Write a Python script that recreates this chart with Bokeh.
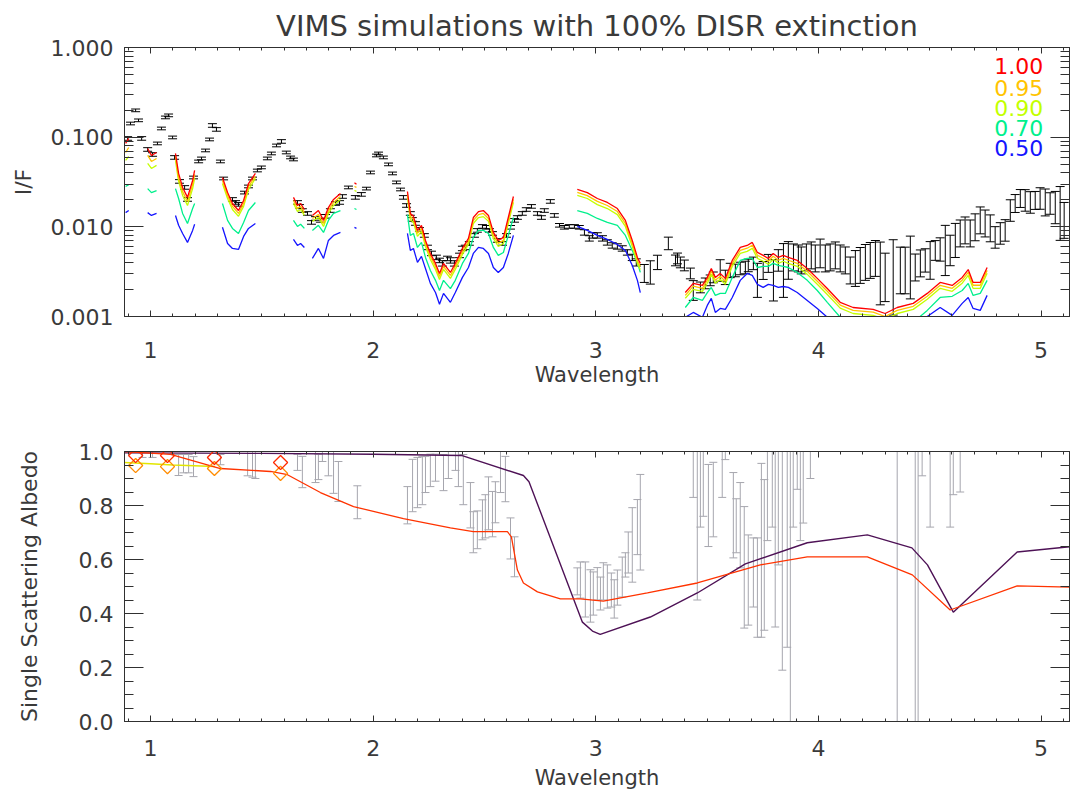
import numpy as np
from bokeh.plotting import figure
from bokeh.models import (Range1d, FixedTicker, LinearAxis, LogAxis, Label,
                          CustomJSTickFormatter, Title)
from bokeh.layouts import column
from bokeh.embed import file_html
from bokeh.resources import INLINE

nan = float("nan")

# ---------------- top panel: VIMS observed I/F (black, with error bars) ----------------
obs_wl = [
    0.897, 0.910, 0.933, 0.946, 0.960, 0.987, 1.009, 1.031, 1.049, 1.067,
    1.081, 1.099, 1.108, 1.130, 1.153, 1.166, 1.193, 1.216, 1.229, 1.247,
    1.265, 1.278, 1.296, 1.314, 1.328, 1.368, 1.382, 1.395, 1.422, 1.440,
    1.458, 1.480, 1.498, 1.525, 1.543, 1.566, 1.588, 1.610, 1.629, 1.642,
    1.660, 1.669, 1.682, 1.705, 1.723, 1.741, 1.763, 1.786, 1.808, 1.831,
    1.849, 1.862, 1.889, 1.920, 1.947, 1.970, 1.988, 2.015, 2.024, 2.046,
    2.069, 2.087, 2.105, 2.123, 2.136, 2.150, 2.167, 2.176, 2.190, 2.208,
    2.230, 2.244, 2.262, 2.284, 2.298, 2.311, 2.334, 2.347, 2.365, 2.388,
    2.401, 2.414, 2.432, 2.455, 2.468, 2.491, 2.509, 2.522, 2.536, 2.558,
    2.581, 2.599, 2.617, 2.635, 2.648, 2.670, 2.688, 2.711, 2.738, 2.756,
    2.769, 2.796, 2.814, 2.837, 2.859, 2.881, 2.904, 2.926, 2.949, 2.971,
    2.985, 3.007, 3.030, 3.052, 3.074, 3.097, 3.119, 3.142, 3.164, 3.182,
    3.218, 3.245, 3.277, 3.326, 3.358, 3.367, 3.380, 3.398, 3.425, 3.438,
    3.470, 3.492, 3.514, 3.528, 3.559, 3.582, 3.604, 3.627, 3.649, 3.672,
    3.685, 3.708, 3.726, 3.752, 3.775, 3.798, 3.820, 3.843, 3.865, 3.888,
    3.910, 3.923, 3.946, 3.968, 3.986, 4.008, 4.031, 4.053, 4.076, 4.098,
    4.121, 4.143, 4.166, 4.188, 4.211, 4.233, 4.256, 4.278, 4.300, 4.336,
    4.368, 4.390, 4.413, 4.435, 4.458, 4.480, 4.502, 4.525, 4.547, 4.570,
    4.592, 4.615, 4.637, 4.659, 4.682, 4.704, 4.727, 4.749, 4.772, 4.794,
    4.817, 4.839, 4.862, 4.884, 4.907, 4.929, 4.952, 4.974, 4.996, 5.019,
    5.041, 5.064, 5.086, 5.104]
obs_if = [
    0.0967, 0.142, 0.199, 0.154, 0.0968, 0.0729, 0.0641, 0.0851, 0.125, 0.166,
    0.175, 0.0993, 0.0594, 0.0321, 0.0275, 0.0202, 0.0355, 0.0536, 0.0579, 0.0711,
    0.0943, 0.135, 0.122, 0.0536, 0.0346, 0.0202, 0.0187, 0.0178, 0.0241, 0.0282,
    0.0346, 0.0425, 0.0460, 0.0579, 0.0658, 0.0808, 0.0896, 0.0675, 0.0594, 0.0564,
    0.0187, 0.0169, 0.0152, 0.0141, 0.0112, 0.0124, 0.0118, 0.0131, 0.0152, 0.0182,
    0.0187, 0.0218, 0.0275, 0.0213, 0.0230, 0.0267, 0.0404, 0.0625, 0.0658, 0.0594,
    0.0497, 0.0394, 0.0313, 0.0261, 0.0213, 0.0173, 0.0141, 0.0121, 0.0109, 0.00936,
    0.00802, 0.00589, 0.00505, 0.00456, 0.00422, 0.00391, 0.00444, 0.00422, 0.00391, 0.00480,
    0.00574, 0.00589, 0.00653, 0.00802, 0.00912, 0.0101, 0.00988, 0.00912, 0.00844, 0.00705,
    0.00653, 0.00802, 0.00988, 0.0118, 0.0127, 0.0141, 0.0156, 0.0169, 0.0141, 0.0127,
    0.0152, 0.0192, 0.0134, 0.0104, 0.00988, 0.0101, 0.0101, 0.00988, 0.00866, 0.00743,
    0.00802, 0.00802, 0.00743, 0.00670, 0.00620, 0.00604, 0.00574, 0.00518, 0.00456, 0.00401,
    0.00302, 0.00310, 0.00401, 0.00653, 0.00422, 0.00444, 0.00401, 0.00371, 0.00302, 0.00195,
    0.00211, 0.00234, 0.00253, 0.00273, 0.00326, 0.00273, 0.00326, 0.00326, 0.00343, 0.00352,
    0.00371, 0.00391, 0.00253, 0.00326, 0.00391, 0.00253, 0.00422, 0.00326, 0.00422, 0.00456,
    0.00444, 0.00422, 0.00456, 0.00480, 0.00444, 0.00505, 0.00444, 0.00456, 0.00480, 0.00444,
    0.00422, 0.00326, 0.00343, 0.00371, 0.00401, 0.00422, 0.00444, 0.00302, 0.00273, 0.00273,
    0.00326, 0.00326, 0.00352, 0.00352, 0.00391, 0.00422, 0.00422, 0.00545, 0.00559, 0.00545,
    0.00545, 0.00705, 0.00844, 0.00912, 0.00844, 0.00988, 0.0118, 0.0109, 0.00962, 0.00762,
    0.00844, 0.00912, 0.0152, 0.0182, 0.0207, 0.0197, 0.0187, 0.0197, 0.0207, 0.0187,
    0.0182, 0.0164, 0.0141, 0.0118]
# half-length of each error bar, in decades (log10 units)
obs_err_dex = [
    0.02, 0.015, 0.015, 0.015, 0.02, 0.02, 0.02, 0.015, 0.015, 0.015,
    0.015, 0.015, 0.02, 0.02, 0.02, 0.02, 0.015, 0.015, 0.015, 0.015,
    0.015, 0.02, 0.02, 0.015, 0.015, 0.02, 0.02, 0.02, 0.015, 0.015,
    0.015, 0.015, 0.015, 0.015, 0.015, 0.015, 0.02, 0.015, 0.015, 0.015,
    0.02, 0.02, 0.02, 0.02, 0.02, 0.02, 0.02, 0.02, 0.02, 0.02,
    0.02, 0.02, 0.015, 0.02, 0.02, 0.015, 0.015, 0.015, 0.015, 0.015,
    0.015, 0.015, 0.015, 0.015, 0.02, 0.02, 0.02, 0.02, 0.02, 0.02,
    0.02, 0.025, 0.025, 0.025, 0.025, 0.03, 0.025, 0.03, 0.03, 0.025,
    0.025, 0.025, 0.02, 0.02, 0.02, 0.02, 0.02, 0.02, 0.02, 0.02,
    0.02, 0.02, 0.02, 0.02, 0.02, 0.02, 0.02, 0.02, 0.02, 0.02,
    0.02, 0.02, 0.02, 0.02, 0.02, 0.02, 0.02, 0.02, 0.03, 0.03,
    0.03, 0.03, 0.03, 0.03, 0.03, 0.03, 0.03, 0.03, 0.035, 0.04,
    0.10, 0.13, 0.08, 0.07, 0.06, 0.06, 0.06, 0.06, 0.06, 0.11,
    0.06, 0.06, 0.06, 0.06, 0.12, 0.08, 0.08, 0.07, 0.07, 0.07,
    0.07, 0.07, 0.19, 0.10, 0.10, 0.23, 0.12, 0.30, 0.21, 0.15,
    0.15, 0.15, 0.15, 0.15, 0.15, 0.16, 0.15, 0.15, 0.15, 0.15,
    0.15, 0.15, 0.20, 0.20, 0.20, 0.20, 0.20, 0.35, 0.27, 0.42,
    0.26, 0.26, 0.35, 0.15, 0.15, 0.13, 0.21, 0.11, 0.13, 0.28,
    0.17, 0.19, 0.15, 0.15, 0.15, 0.15, 0.15, 0.15, 0.15, 0.12,
    0.12, 0.12, 0.12, 0.10, 0.10, 0.12, 0.12, 0.10, 0.12, 0.15,
    0.12, 0.18, 0.30, 0.20]

# ---------------- top panel: simulations (segments separated by nan) ----------------
model_wl = [
    0.888, 0.902, nan,
    0.987, 1.004, 1.027, nan,
    1.112, 1.126, 1.144, 1.166, 1.189, 1.198, nan,
    1.323, 1.346, 1.368, 1.395, 1.418, 1.440, 1.471, nan,
    1.642, 1.660, 1.674, 1.691, nan,
    1.727, 1.754, 1.777, 1.799, 1.822, 1.853, nan,
    1.916, 1.925, nan,
    2.154, 2.167, 2.181, 2.199, 2.217, 2.235, 2.257, 2.280, 2.298, 2.316, 2.347, 2.369,
    2.401, 2.428, 2.450, 2.473, 2.495, 2.518, 2.540, 2.562, 2.585, 2.607, 2.630, nan,
    2.917, 2.962, 3.007, 3.052, 3.097, 3.133, 3.164, 3.187, 3.200, nan,
    3.402, 3.438, 3.479, 3.501, 3.519, 3.537, 3.559, 3.582, 3.613, 3.649,
    3.680, 3.703, 3.726, 3.752, 3.775, 3.797, 3.820, 3.842, 3.865, 3.905,
    3.950, 3.995, 4.040, 4.098, 4.156, 4.246, 4.300, 4.354, 4.426, 4.489,
    4.547, 4.601, 4.646, 4.673, 4.695, 4.727, 4.758]

if_100 = [
    0.0851, 0.0968, nan,
    0.0748, 0.0625, 0.0675, nan,
    0.0658, 0.0394, 0.0275, 0.0213, 0.0329, 0.0425, nan,
    0.0355, 0.0241, 0.0182, 0.0152, 0.0197, 0.0304, 0.0394, nan,
    0.0213, 0.0173, 0.0182, 0.0156, nan,
    0.0134, 0.0152, 0.0118, 0.0164, 0.0202, 0.0236, nan,
    0.0310, 0.0298, nan,
    0.0248, 0.0141, 0.0131, 0.00912, 0.0104, 0.00705, 0.00505, 0.00391, 0.00302, 0.00391,
    0.00310, 0.00391, 0.00574, 0.00743, 0.0127, 0.0148, 0.0152, 0.0134, 0.00866, 0.00705,
    0.00762, 0.0127, 0.0218, nan,
    0.0261, 0.0241, 0.0207, 0.0187, 0.0160, 0.0118, 0.00705, 0.00456, 0.00391, nan,
    0.00185, 0.00234, 0.00222, 0.00273, 0.00343, 0.00273, 0.00302, 0.00266, 0.00422, 0.00589,
    0.00620, 0.00670, 0.00518, 0.00480, 0.00444, 0.00505, 0.00456, 0.00480, 0.00456, 0.00422,
    0.00343, 0.00266, 0.00205, 0.00144, 0.00126, 0.00120, 0.00108, 0.00126, 0.00140, 0.00181,
    0.00240, 0.00222, 0.00273, 0.00334, 0.00240, 0.00240, 0.00352]

if_095 = [
    0.0675, 0.0767, nan,
    0.0625, 0.0536, 0.0579, nan,
    0.0609, 0.0355, 0.0247, 0.0192, 0.0296, 0.0384, nan,
    0.0329, 0.0224, 0.0169, 0.0141, 0.0182, 0.0282, 0.0365, nan,
    0.0197, 0.0160, 0.0169, 0.0144, nan,
    0.0124, 0.0137, 0.0109, 0.0152, 0.0187, 0.0218, nan,
    0.0282, 0.0275, nan,
    0.0230, 0.0131, 0.0121, 0.00845, 0.00963, 0.00653, 0.00468, 0.00362, 0.00280, 0.00362,
    0.00287, 0.00362, 0.00532, 0.00688, 0.0118, 0.0137, 0.0141, 0.0124, 0.00802, 0.00653,
    0.00706, 0.0118, 0.0202, nan,
    0.0242, 0.0223, 0.0192, 0.0173, 0.0148, 0.0109, 0.00653, 0.00422, 0.00362, nan,
    0.00172, 0.00218, 0.00206, 0.00254, 0.00319, 0.00254, 0.00281, 0.00247, 0.00392, 0.00548,
    0.00577, 0.00623, 0.00482, 0.00446, 0.00413, 0.00470, 0.00424, 0.00446, 0.00424, 0.00392,
    0.00319, 0.00247, 0.00191, 0.00134, 0.00117, 0.00112, 0.00100, 0.00117, 0.00130, 0.00168,
    0.00223, 0.00206, 0.00254, 0.00311, 0.00223, 0.00223, 0.00327]

if_090 = [
    0.0550, 0.0609, nan,
    0.0510, 0.0448, 0.0484, nan,
    0.0550, 0.0321, 0.0224, 0.0173, 0.0267, 0.0346, nan,
    0.0304, 0.0207, 0.0156, 0.0131, 0.0169, 0.0261, 0.0346, nan,
    0.0182, 0.0148, 0.0156, 0.0134, nan,
    0.0115, 0.0127, 0.0101, 0.0141, 0.0173, 0.0202, nan,
    0.0254, 0.0248, nan,
    0.0213, 0.0121, 0.0112, 0.00782, 0.00891, 0.00604, 0.00433, 0.00335, 0.00259, 0.00335,
    0.00266, 0.00335, 0.00492, 0.00637, 0.0109, 0.0127, 0.0130, 0.0115, 0.00742, 0.00604,
    0.00653, 0.0109, 0.0187, nan,
    0.0224, 0.0207, 0.0177, 0.0160, 0.0137, 0.0101, 0.00604, 0.00391, 0.00335, nan,
    0.00160, 0.00201, 0.00191, 0.00235, 0.00295, 0.00235, 0.00260, 0.00229, 0.00363, 0.00507,
    0.00533, 0.00576, 0.00445, 0.00413, 0.00382, 0.00434, 0.00392, 0.00413, 0.00392, 0.00363,
    0.00295, 0.00229, 0.00176, 0.00124, 0.00108, 0.00103, 0.00093, 0.00108, 0.00120, 0.00156,
    0.00206, 0.00191, 0.00235, 0.00287, 0.00206, 0.00206, 0.00303]

if_070 = [
    0.0282, 0.0296, nan,
    0.0267, 0.0241, 0.0254, nan,
    0.0267, 0.0207, 0.0141, 0.0109, 0.0160, 0.0182, nan,
    0.0182, 0.0118, 0.0096, 0.00844, 0.0112, 0.0152, 0.0187, nan,
    0.0118, 0.0101, 0.0107, 0.0096, nan,
    0.00912, 0.0104, 0.00866, 0.0118, 0.0141, 0.0152, nan,
    0.0160, 0.0156, nan,
    0.0137, 0.00802, 0.00844, 0.00589, 0.00670, 0.00456, 0.00326, 0.00253, 0.00195, 0.00253,
    0.00205, 0.00253, 0.00391, 0.00505, 0.00762, 0.00912, 0.00912, 0.00844, 0.00589, 0.00480,
    0.00518, 0.00802, 0.0127, nan,
    0.0152, 0.0141, 0.0124, 0.0112, 0.0104, 0.00802, 0.00545, 0.00401, 0.00310, nan,
    0.00126, 0.00163, 0.00151, 0.00185, 0.00211, 0.00172, 0.00181, 0.00181, 0.00273, 0.00422,
    0.00444, 0.00444, 0.00352, 0.00362, 0.00362, 0.00391, 0.00371, 0.00362, 0.00352, 0.00310,
    0.00253, 0.00195, 0.00144, 0.00098, 0.00080, 0.00070, 0.00062, 0.00073, 0.00086, 0.00117,
    0.00163, 0.00168, 0.00195, 0.00234, 0.00172, 0.00181, 0.00253]

if_050 = [
    0.0144, 0.0152, nan,
    0.0144, 0.0134, 0.0141, nan,
    0.0134, 0.0104, 0.00844, 0.00670, 0.00912, 0.0107, nan,
    0.00988, 0.00653, 0.00574, 0.00559, 0.00782, 0.0096, 0.0109, nan,
    0.00723, 0.00620, 0.00653, 0.00589, nan,
    0.00444, 0.00574, 0.00444, 0.00705, 0.00802, 0.00866, nan,
    0.00988, 0.00962, nan,
    0.00844, 0.00545, 0.00574, 0.00401, 0.00468, 0.00343, 0.00234, 0.00185, 0.00137, 0.00181,
    0.00144, 0.00185, 0.00273, 0.00352, 0.00505, 0.00589, 0.00574, 0.00505, 0.00352, 0.00310,
    0.00352, 0.00505, 0.00802, nan,
    0.0101, 0.00912, 0.00802, 0.00723, 0.00636, 0.00545, 0.00371, 0.00253, 0.00185, nan,
    0.00098, 0.00111, 0.00098, 0.00133, 0.00159, 0.00111, 0.00123, 0.00120, 0.00163, 0.00253,
    0.00302, 0.00287, 0.00228, 0.00211, 0.00228, 0.00222, 0.00211, 0.00216, 0.00211, 0.00185,
    0.00151, 0.00123, 0.00098, 0.00070, 0.00054, 0.00048, 0.00042, 0.00052, 0.00062, 0.00100,
    0.00126, 0.00103, 0.00140, 0.00163, 0.00123, 0.00117, 0.00172]

legend_labels = ["1.00", "0.95", "0.90", "0.70", "0.50"]
legend_colors = ["#FF0000", "#FFC400", "#C4FF00", "#00F08C", "#1414FF"]

# ---------------- bottom panel: single scattering albedo ----------------
ssa_wl = [
    0.964, 1.009, 1.126, 1.148, 1.171, 1.193, 1.314, 1.436, 1.458, 1.471,
    1.660, 1.682, 1.741, 1.754, 1.772, 1.799, 1.822, 1.844, 1.929, 2.154,
    2.177, 2.199, 2.221, 2.235, 2.257, 2.280, 2.316, 2.338, 2.370, 2.383,
    2.405, 2.437, 2.450, 2.468, 2.491, 2.504, 2.518, 2.536, 2.549, 2.572,
    2.594, 2.617, 2.635, 2.917, 2.931, 2.953, 2.976, 2.989, 3.007, 3.021,
    3.034, 3.052, 3.070, 3.083, 3.097, 3.119, 3.133, 3.146, 3.164, 3.187,
    3.200, 3.438, 3.456, 3.470, 3.483, 3.506, 3.528, 3.568, 3.582, 3.618,
    3.631, 3.649, 3.667, 3.685, 3.708, 3.726, 3.744, 3.757, 3.771, 3.793,
    3.806, 3.820, 3.838, 3.860, 3.874, 3.887, 3.905, 3.919, 3.932, 3.964,
    4.354, 4.435, 4.448, 4.466, 4.502, 4.592, 4.606, 4.637]
ssa_val = [
    0.994, 0.994, 0.95, 0.955, 0.955, 0.944, 0.97, 0.96, 0.96, 0.955,
    0.96, 0.924, 0.945, 0.943, 0.985, 0.96, 0.93, 0.889, 0.812, 0.801,
    0.874, 0.885, 0.892, 0.915, 0.93, 0.94, 0.922, 0.96, 0.975, 0.94,
    0.896, 0.801, 0.701, 0.71, 0.747, 0.76, 0.808, 0.768, 0.812, 0.924,
    0.898, 0.678, 0.61, 0.519, 0.524, 0.489, 0.465, 0.474, 0.51, 0.474,
    0.519, 0.50, 0.487, 0.454, 0.496, 0.535, 0.58, 0.626, 0.654, 0.72,
    0.738, 0.95, 0.78, 0.9, 0.92, 0.80, 0.822, 0.96, 1.02, 0.764,
    0.725, 0.727, 0.571, 0.524, 0.552, 0.496, 0.634, 0.617, 0.86, 0.89,
    0.70, 0.82, 0.62, 0.66, 0.45, 0.88, 0.96, 0.86, 0.89, 0.99,
    0.5, 0.5, 0.5, 1.0, 0.88, 0.88, 0.95, 0.96]
ssa_err = [
    0.016, 0.016, 0.039, 0.034, 0.034, 0.037, 0.019, 0.05, 0.055, 0.055,
    0.03, 0.058, 0.06, 0.047, 0.022, 0.05, 0.085, 0.074, 0.061, 0.069,
    0.097, 0.093, 0.089, 0.067, 0.06, 0.05, 0.067, 0.06, 0.045, 0.07,
    0.093, 0.084, 0.076, 0.07, 0.074, 0.08, 0.098, 0.084, 0.076, 0.076,
    0.084, 0.076, 0.074, 0.05, 0.067, 0.102, 0.097, 0.08, 0.06, 0.061,
    0.069, 0.08, 0.063, 0.071, 0.065, 0.074, 0.045, 0.076, 0.138, 0.102,
    0.177, 0.12, 0.33, 0.18, 0.16, 0.152, 0.138, 0.13, 0.05, 0.158,
    0.10, 0.158, 0.225, 0.167, 0.128, 0.184, 0.322, 0.279, 0.19, 0.17,
    0.35, 0.24, 0.43, 0.385, 0.6, 0.16, 0.10, 0.19, 0.155, 0.09,
    0.7, 0.7, 0.7, 0.09, 0.16, 0.16, 0.11, 0.11]

purple_wl = [0.883, 1.5, 2.0, 2.4, 2.675, 2.70, 2.94, 2.985, 3.02, 3.245,
             3.456, 3.672, 3.95, 4.22, 4.42, 4.49, 4.606, 4.893, 5.128]
purple_ssa = [0.995, 0.993, 0.99, 0.985, 0.911, 0.888, 0.368, 0.335, 0.323, 0.387,
              0.476, 0.584, 0.662, 0.691, 0.643, 0.580, 0.405, 0.628, 0.647]

red_wl = [0.883, 1.090, 1.314, 1.539, 1.615, 1.763, 1.912, 2.136, 2.347, 2.450,
          2.603, 2.621, 2.648, 2.675, 2.738, 2.841, 2.931, 3.034, 3.232, 3.456,
          3.739, 3.950, 4.220, 4.422, 4.592, 4.893, 5.128]
red_ssa = [1.0, 0.989, 0.937, 0.926, 0.914, 0.848, 0.796, 0.751, 0.717, 0.703,
           0.703, 0.684, 0.561, 0.513, 0.480, 0.454, 0.454, 0.446, 0.476, 0.513,
           0.580, 0.610, 0.610, 0.543, 0.413, 0.502, 0.498]

yellow_wl = [0.883, 1.0, 1.1, 1.29]
yellow_ssa = [0.959, 0.955, 0.95, 0.944]

diamond_wl = [0.933, 1.076, 1.287, 1.584]
diamond_red = [0.985, 0.985, 0.978, 0.959]
diamond_orange = [0.948, 0.944, 0.937, 0.919]

# ---------------- styling helpers ----------------
FONT = "DejaVu Sans"
TXT = "#3a3a3a"
AX = "#303030"
x_major = [1, 2, 3, 4, 5]
x_minor = [round(0.9 + 0.1 * i, 2) for i in range(43)]


def hide_labels(axis):
    axis.major_label_text_font_size = "1px"
    axis.major_label_text_alpha = 0
    axis.major_label_standoff = 0


def style_x(axis, show_labels=True, tick_standoff=25, label_standoff=2):
    axis.ticker = FixedTicker(ticks=x_major, minor_ticks=x_minor)
    axis.major_tick_in = 6
    axis.major_tick_out = 0
    axis.minor_tick_in = 3
    axis.minor_tick_out = 0
    axis.axis_line_color = AX
    axis.major_tick_line_color = AX
    axis.minor_tick_line_color = AX
    if show_labels:
        axis.major_label_text_font = FONT
        axis.major_label_text_font_size = "22px"
        axis.major_label_text_color = TXT
        axis.major_label_standoff = tick_standoff
        axis.axis_label = "Wavelength"
        axis.axis_label_text_font = FONT
        axis.axis_label_text_font_size = "21px"
        axis.axis_label_text_font_style = "normal"
        axis.axis_label_text_color = TXT
        axis.axis_label_standoff = label_standoff
    else:
        hide_labels(axis)


def style_y(axis, ticker, fmt=None, label=None, label_standoff=10, show_labels=True):
    axis.ticker = ticker
    axis.major_tick_in = 19
    axis.major_tick_out = 0
    axis.minor_tick_in = 9
    axis.minor_tick_out = 0
    axis.axis_line_color = AX
    axis.major_tick_line_color = AX
    axis.minor_tick_line_color = AX
    if show_labels:
        axis.formatter = fmt
        axis.major_label_text_font = FONT
        axis.major_label_text_font_size = "22px"
        axis.major_label_text_color = TXT
        axis.major_label_standoff = 11
        axis.axis_label = label
        axis.axis_label_text_font = FONT
        axis.axis_label_text_font_size = "22px"
        axis.axis_label_text_font_style = "normal"
        axis.axis_label_text_color = TXT
        axis.axis_label_standoff = label_standoff
    else:
        hide_labels(axis)


# ---------------- top figure ----------------
p1 = figure(width=1074, height=390, output_backend="svg", toolbar_location=None,
            x_range=Range1d(0.883, 5.128), y_range=Range1d(0.001, 1.0),
            y_axis_type="log", min_border_left=124, min_border_right=5,
            min_border_top=47, min_border_bottom=74)
p1.title = Title(text="VIMS simulations with 100% DISR extinction", align="center",
                 text_font=FONT, text_font_size="29px", text_font_style="normal",
                 text_color=TXT)
p1.xgrid.grid_line_color = None
p1.ygrid.grid_line_color = None
p1.outline_line_color = AX

log_major = [0.001, 0.01, 0.1, 1.0]
log_minor = [k * 10.0 ** e for e in (-3, -2, -1) for k in range(2, 10)]
fmt3 = CustomJSTickFormatter(code="return tick.toFixed(3);")

style_x(p1.xaxis[0], tick_standoff=25, label_standoff=2)
style_y(p1.yaxis[0], FixedTicker(ticks=log_major, minor_ticks=log_minor), fmt3,
        label="I/F", label_standoff=12)
ax_r1 = LogAxis()
p1.add_layout(ax_r1, "right")
style_y(ax_r1, FixedTicker(ticks=log_major, minor_ticks=log_minor), show_labels=False)
ax_t1 = LinearAxis()
p1.add_layout(ax_t1, "above")
style_x(ax_t1, show_labels=False)

obs_wl_a = np.array(obs_wl)
obs_if_a = np.array(obs_if)
fac = 10.0 ** np.array(obs_err_dex)
lo = obs_if_a / fac
hi = obs_if_a * fac
p1.segment(x0=obs_wl_a, y0=lo, x1=obs_wl_a, y1=hi, line_color="#000000", line_width=1)
p1.scatter(obs_wl_a, lo, marker="dash", size=9, line_color="#000000", line_width=1)
p1.scatter(obs_wl_a, hi, marker="dash", size=9, line_color="#000000", line_width=1)

for series, col in zip([if_050, if_070, if_090, if_095, if_100], legend_colors[::-1]):
    p1.line(model_wl, series, line_color=col, line_width=1.3)

legend_y = [0.619, 0.358, 0.214, 0.128, 0.0748]
for txt, col, yy in zip(legend_labels, legend_colors, legend_y):
    p1.add_layout(Label(x=5.01, y=yy, text=txt, text_align="right", text_baseline="middle",
                        text_font=FONT, text_font_size="22px", text_color=col))

# ---------------- bottom figure ----------------
p2 = figure(width=1074, height=405, output_backend="svg", toolbar_location=None,
            x_range=Range1d(0.883, 5.128), y_range=Range1d(0.0, 1.0),
            min_border_left=124, min_border_right=5, min_border_top=61, min_border_bottom=74)
p2.xgrid.grid_line_color = None
p2.ygrid.grid_line_color = None
p2.outline_line_color = AX

lin_major = [0.0, 0.2, 0.4, 0.6, 0.8, 1.0]
lin_minor = [round(0.05 * i, 2) for i in range(21)]
fmt1 = CustomJSTickFormatter(code="return tick.toFixed(1);")
style_x(p2.xaxis[0], tick_standoff=18, label_standoff=7)
style_y(p2.yaxis[0], FixedTicker(ticks=lin_major, minor_ticks=lin_minor), fmt1,
        label="Single Scattering Albedo", label_standoff=34)
ax_r2 = LinearAxis()
p2.add_layout(ax_r2, "right")
style_y(ax_r2, FixedTicker(ticks=lin_major, minor_ticks=lin_minor), show_labels=False)
ax_t2 = LinearAxis()
p2.add_layout(ax_t2, "above")
style_x(ax_t2, show_labels=False)

ssa_wl_a = np.array(ssa_wl)
ssa_lo = np.array(ssa_val) - np.array(ssa_err)
ssa_hi = np.array(ssa_val) + np.array(ssa_err)
GRAY = "#A6A6AE"
p2.segment(x0=ssa_wl_a, y0=ssa_lo, x1=ssa_wl_a, y1=ssa_hi, line_color=GRAY, line_width=1)
p2.scatter(ssa_wl_a, ssa_lo, marker="dash", size=8, line_color=GRAY, line_width=1)
p2.scatter(ssa_wl_a, ssa_hi, marker="dash", size=8, line_color=GRAY, line_width=1)

p2.line(yellow_wl, yellow_ssa, line_color="#E2E600", line_width=1.5)
p2.line(purple_wl, purple_ssa, line_color="#4E1256", line_width=1.4)
p2.line(red_wl, red_ssa, line_color="#FF3300", line_width=1.3)
p2.scatter(diamond_wl, diamond_orange, marker="square", angle=np.pi / 4, size=10,
           fill_color=None, line_color="#FF8C00", line_width=1.3)
p2.scatter(diamond_wl, diamond_red, marker="square", angle=np.pi / 4, size=10,
           fill_color=None, line_color="#FF2A00", line_width=1.3)

layout = column(p1, p2)
open("out.html", "w").write(file_html(layout, INLINE))
